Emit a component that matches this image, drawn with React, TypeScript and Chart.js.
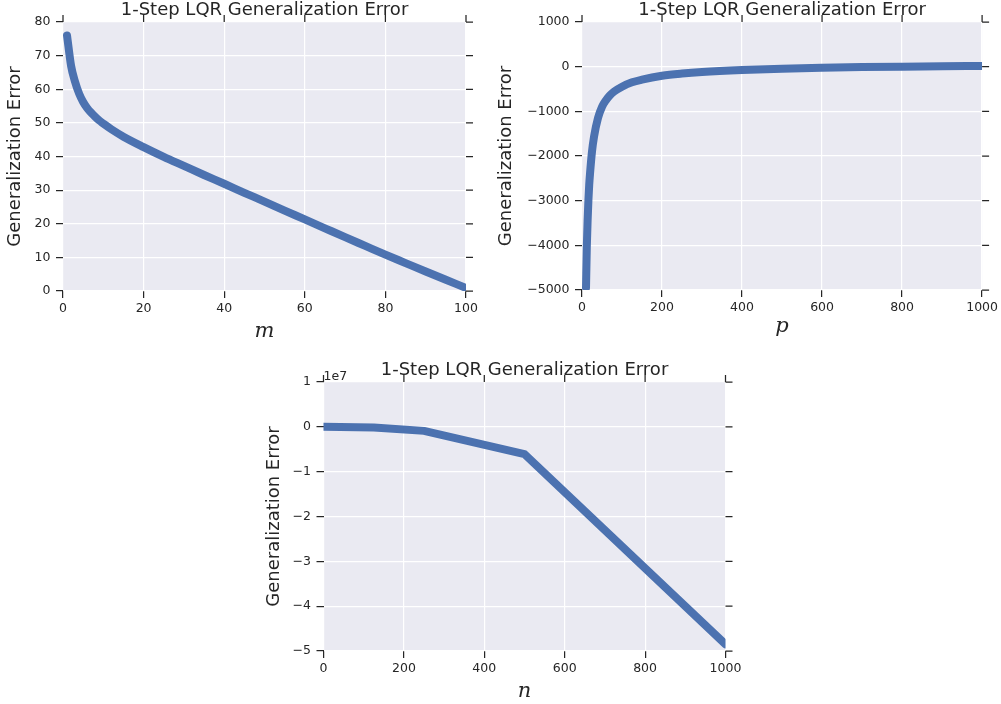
import React, { useEffect, useRef } from "react";
import { Chart, registerables } from "chart.js";

Chart.register(...registerables);

// ---------- data ----------
const mValues = [1, 2, 3, 4, 5, 6, 7, 8, 9, 10, 12, 15, 20, 25, 30, 35, 40, 45, 50, 55, 60, 65, 70, 75, 80, 85, 90, 95, 100];
const mErrors = [76, 67, 62.2, 58.7, 56.2, 54.4, 53, 51.8, 50.7, 49.8, 48.1, 45.9, 42.8, 39.9, 37.2, 34.5, 31.9, 29.2, 26.6, 23.9, 21.3, 18.65, 16, 13.4, 10.8, 8.3, 5.8, 3.35, 0.9];

const pValues = [10, 12, 14, 16, 18, 20, 25, 30, 40, 50, 60, 70, 80, 100, 125, 150, 200, 250, 300, 400, 500, 600, 700, 800, 900, 1000];
const pErrors = [-4950, -4050, -3450, -3000, -2650, -2400, -1900, -1570, -1150, -900, -750, -640, -560, -450, -350, -290, -205, -155, -120, -75, -45, -25, -10, 0, 8, 15];

const nValues = [0, 125, 250, 500, 1000];
const nErrors = [0, -150000, -900000, -6100000, -48500000];

const titleText = "1-Step LQR Generalization Error";
const yLabel = "Generalization Error";
const xLabels = ["m", "p", "n"];
const offsetLabel = "1e7";

// ---------- style ----------
const LINE = "#4C72B0";
const BG = "#EAEAF2";
const INK = "#262626";
const TICK_LEN = 7;
const SANS = "'DejaVu Sans', sans-serif";
const SERIF = "'DejaVu Serif', serif";

const fmt = (v: number) => (v < 0 ? "\u2212" + Math.abs(v) : String(v));

const decorPlugin = {
  id: "panelDecor",
  beforeDraw(chart: any) {
    const { ctx, chartArea: a } = chart;
    ctx.save();
    ctx.fillStyle = BG;
    ctx.fillRect(a.left, a.top, a.right - a.left, a.bottom - a.top);
    ctx.restore();
  },
  afterDraw(chart: any, _args: any, opts: any) {
    const { ctx, chartArea: a, scales } = chart;
    ctx.save();
    ctx.strokeStyle = INK;
    ctx.lineWidth = 1.25;
    ctx.beginPath();
    scales.x.ticks.forEach((t: any) => {
      const x = scales.x.getPixelForValue(t.value);
      ctx.moveTo(x, a.top);
      ctx.lineTo(x, a.top - TICK_LEN);
    });
    scales.y.ticks.forEach((t: any) => {
      const y = scales.y.getPixelForValue(t.value);
      ctx.moveTo(a.right, y);
      ctx.lineTo(a.right + TICK_LEN, y);
    });
    ctx.stroke();
    if (opts && opts.offsetText) {
      ctx.fillStyle = INK;
      ctx.font = "12.5px " + SANS;
      ctx.textAlign = "left";
      ctx.textBaseline = "alphabetic";
      ctx.fillText(opts.offsetText, a.left, a.top - 2);
    }
    ctx.restore();
  },
};

type PanelSpec = {
  xs: number[];
  ys: number[];
  xMax: number;
  xStep: number;
  yMin: number;
  yMax: number;
  yStep: number;
  yDiv: number;
  xLabel: string;
  yAxisWidth: number;
  xAxisHeight: number;
  padTop: number;
  padRight: number;
  yTitlePad: number;
  xTitlePad: number;
  smooth: boolean;
  offsetText?: string;
};

function makeConfig(s: PanelSpec): any {
  return {
    type: "line",
    data: {
      datasets: [
        {
          data: s.xs.map((x, i) => ({ x, y: s.ys[i] })),
          borderColor: LINE,
          backgroundColor: LINE,
          borderWidth: 8,
          pointRadius: 0,
          borderCapStyle: "round",
          borderJoinStyle: "round",
          cubicInterpolationMode: s.smooth ? "monotone" : "default",
          tension: 0,
          fill: false,
        },
      ],
    },
    options: {
      responsive: false,
      animation: false,
      events: [],
      layout: { padding: { left: 0, right: s.padRight, top: s.padTop, bottom: 0 } },
      plugins: {
        legend: { display: false },
        tooltip: { enabled: false },
        title: {
          display: true,
          text: titleText,
          fullSize: false,
          color: INK,
          font: { family: SANS, size: 18, weight: "normal", lineHeight: 1.1 },
          padding: { top: 0, bottom: 2.2 },
        },
        panelDecor: { offsetText: s.offsetText || "" },
      },
      scales: {
        x: {
          type: "linear",
          min: 0,
          max: s.xMax,
          border: { display: false },
          grid: { color: "#ffffff", lineWidth: 1.2, tickColor: INK, tickLength: TICK_LEN, tickWidth: 1.25 },
          ticks: {
            stepSize: s.xStep,
            color: INK,
            padding: 3,
            maxRotation: 0,
            font: { family: SANS, size: 12.5 },
            callback: (v: number) => fmt(v),
          },
          title: {
            display: true,
            text: s.xLabel,
            color: INK,
            font: { family: SERIF, style: "italic", size: 21, lineHeight: 1 },
            padding: { top: 0, bottom: s.xTitlePad },
          },
          afterFit: (sc: any) => {
            sc.height = s.xAxisHeight;
          },
        },
        y: {
          type: "linear",
          min: s.yMin,
          max: s.yMax,
          border: { display: false },
          grid: { color: "#ffffff", lineWidth: 1.2, tickColor: INK, tickLength: TICK_LEN, tickWidth: 1.25 },
          ticks: {
            stepSize: s.yStep,
            color: INK,
            padding: 5.5,
            font: { family: SANS, size: 12.5 },
            callback: (v: number) => fmt(Math.round((v / s.yDiv) * 1000) / 1000),
          },
          title: {
            display: true,
            text: yLabel,
            color: INK,
            font: { family: SANS, size: 18, lineHeight: 1 },
            padding: { top: s.yTitlePad, bottom: 0 },
          },
          afterFit: (sc: any) => {
            sc.width = s.yAxisWidth;
          },
        },
      },
    },
    plugins: [decorPlugin],
  };
}

function Panel(props: { left: number; top: number; width: number; height: number; spec: PanelSpec }) {
  const ref = useRef<HTMLCanvasElement | null>(null);
  useEffect(() => {
    if (!ref.current) return;
    const chart = new Chart(ref.current, makeConfig(props.spec));
    return () => chart.destroy();
  }, []);
  return (
    <canvas
      ref={ref}
      width={props.width}
      height={props.height}
      style={{ position: "absolute", left: props.left, top: props.top, width: props.width, height: props.height }}
    />
  );
}

const spec1: PanelSpec = {
  xs: mValues, ys: mErrors, xMax: 100, xStep: 20, yMin: 0, yMax: 80, yStep: 10, yDiv: 1,
  xLabel: xLabels[0], yAxisWidth: 63, xAxisHeight: 54, padTop: 0, padRight: 24,
  yTitlePad: 6.5, xTitlePad: 3, smooth: true,
};
const spec2: PanelSpec = {
  xs: pValues, ys: pErrors, xMax: 1000, xStep: 200, yMin: -5000, yMax: 1000, yStep: 1000, yDiv: 1,
  xLabel: xLabels[1], yAxisWidth: 92, xAxisHeight: 55, padTop: 0, padRight: 18,
  yTitlePad: 7.5, xTitlePad: 8, smooth: true,
};
const spec3: PanelSpec = {
  xs: nValues, ys: nErrors, xMax: 1000, xStep: 200, yMin: -5e7, yMax: 1e7, yStep: 1e7, yDiv: 1e7,
  xLabel: xLabels[2], yAxisWidth: 73.5, xAxisHeight: 53, padTop: 5, padRight: 24.5,
  yTitlePad: 15, xTitlePad: 2, smooth: false, offsetText: offsetLabel,
};

export default function App() {
  return (
    <div style={{ position: "absolute", left: 0, top: 0, width: 1001, height: 704, background: "#ffffff" }}>
      <Panel left={0} top={0} width={490} height={345} spec={spec1} />
      <Panel left={490} top={0} width={511} height={345} spec={spec2} />
      <Panel left={250} top={355} width={500} height={349} spec={spec3} />
    </div>
  );
}
